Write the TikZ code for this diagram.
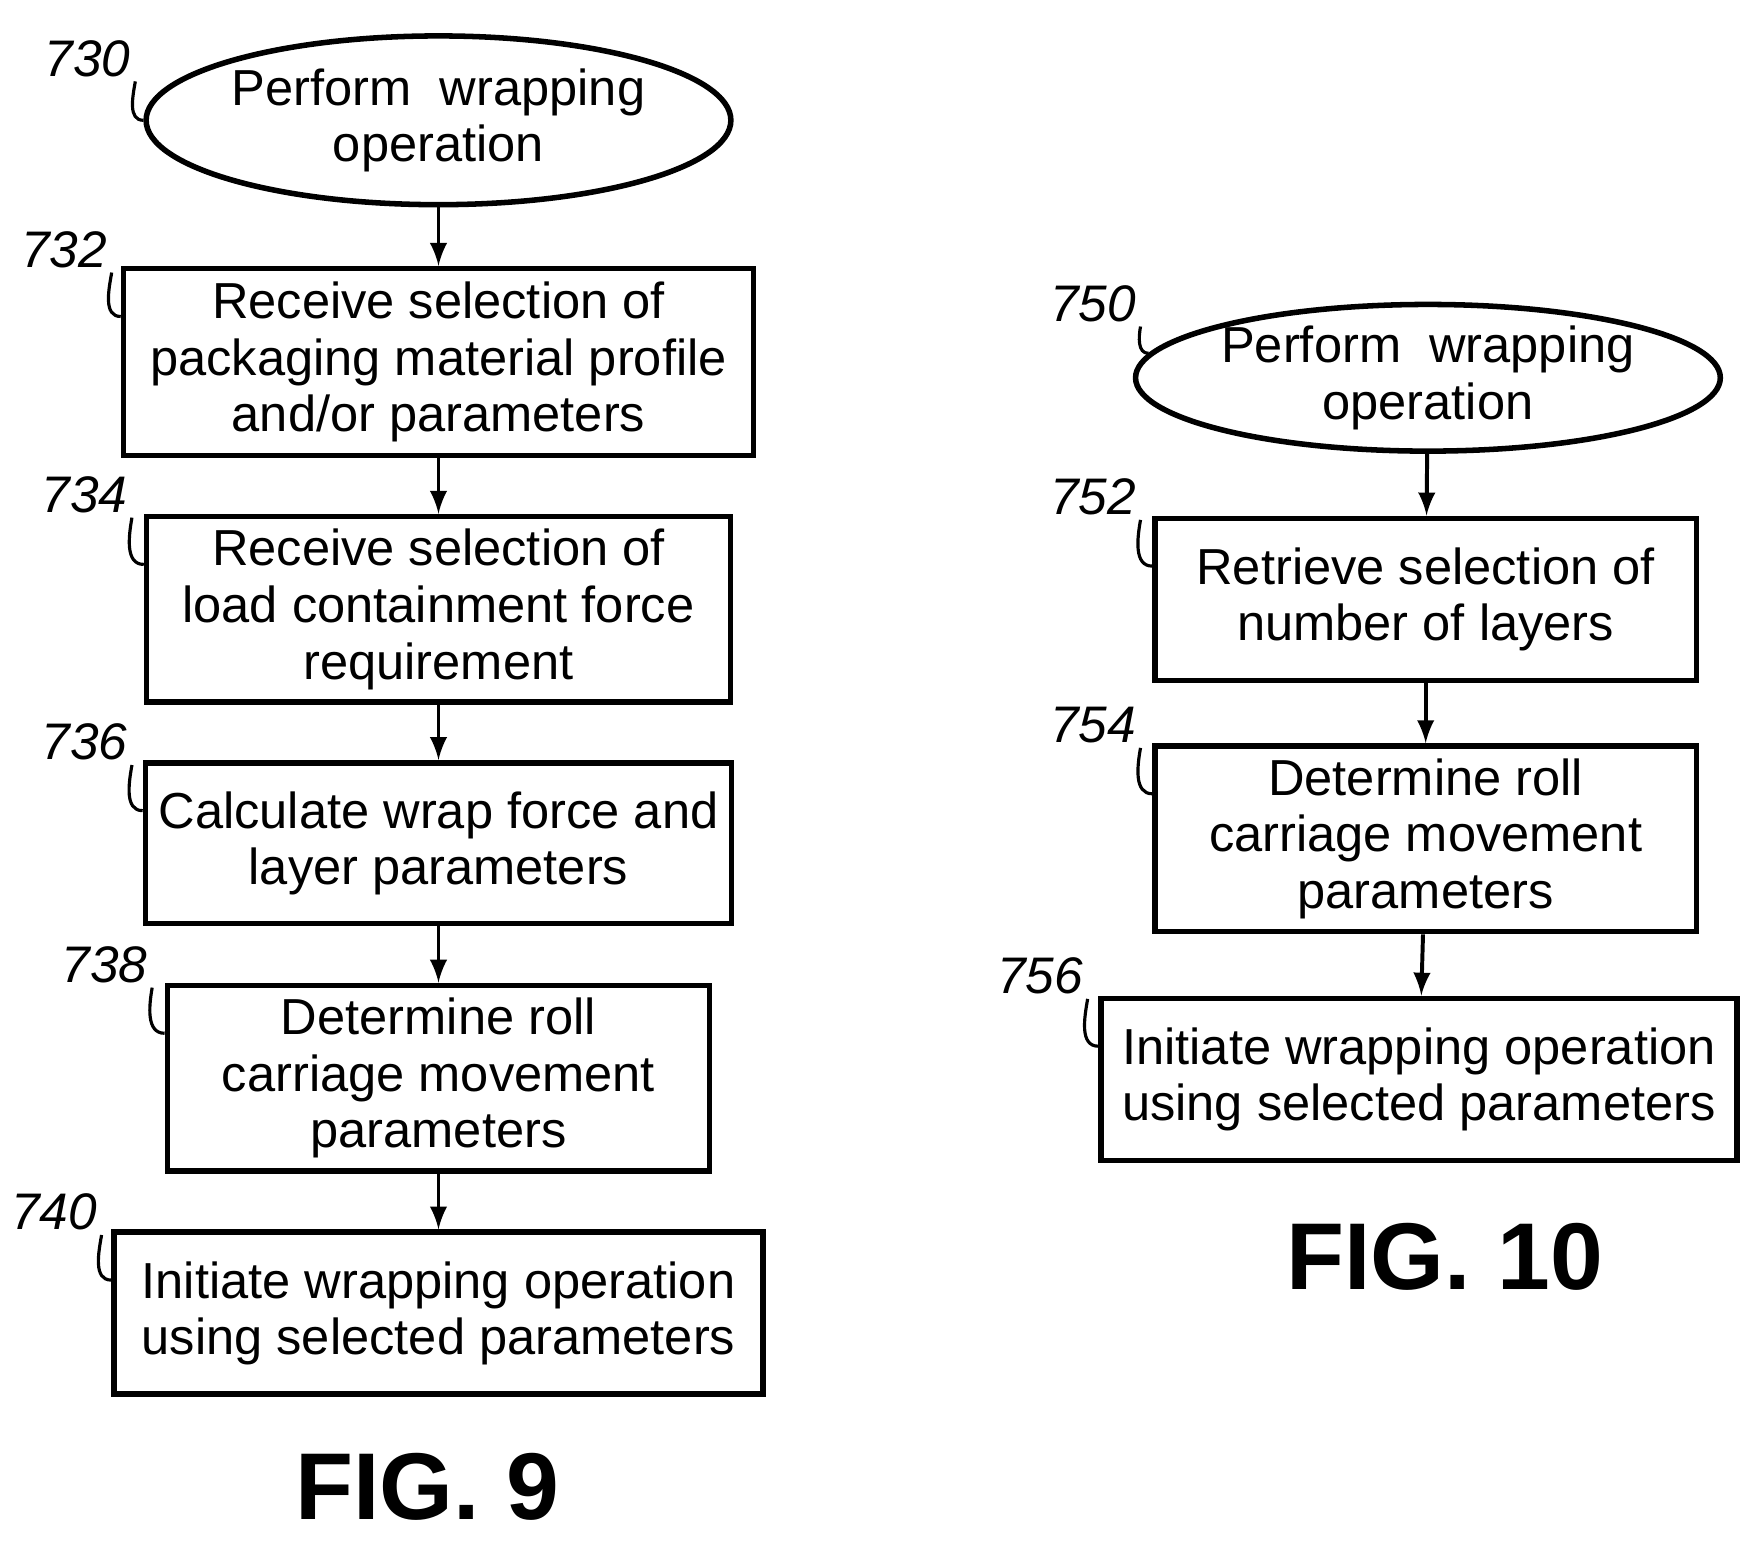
\documentclass[tikz,border=0pt]{standalone}
\usepackage{fontspec}
\setmainfont{Liberation Sans}
\usetikzlibrary{shapes.geometric,calc}

\begin{document}
\begin{tikzpicture}[x=0.01cm,y=-0.01cm,
            box/.style={draw,line width=1.4pt,align=center,inner sep=0pt,font=\fontsize{12.8}{14.3}\selectfont},
            oval/.style={box,ellipse},
            ref/.style={font=\itshape\fontsize{13}{13}\selectfont,inner sep=1pt},
            lead/.style={line width=0.8pt},
            fig/.style={font=\bfseries\fontsize{24}{24}\selectfont}]
            \useasboundingbox (0,0) rectangle (1560,1370);
            % FIG. 9
            \node[oval,minimum width=5.05cm,minimum height=1.5cm](n730) at (390,107) {Perform\ \ wrapping\\operation};
            \node[box,minimum width=5.6cm,minimum height=1.66cm](n732) at (390,322) {Receive selection of\\packaging material profile\\and/or parameters};
            \node[box,minimum width=5.19cm,minimum height=1.65cm](n734) at (390,542) {Receive selection of\\load containment force\\requirement};
            \node[box,minimum width=5.21cm,minimum height=1.43cm](n736) at (390,750) {Calculate wrap force and\\layer parameters};
            \node[box,minimum width=4.82cm,minimum height=1.65cm](n738) at (390,959) {Determine roll\\carriage movement\\parameters};
            \node[box,minimum width=5.77cm,minimum height=1.44cm](n740) at (390,1168) {Initiate wrapping operation\\using selected parameters};
            \node[fig](f9) at (380,1322) {FIG. 9};
            % FIG. 10
            \node[oval,minimum width=4.85cm,minimum height=1.3cm](n750) at (1270,336) {Perform\ \ wrapping\\operation};
            \node[box,minimum width=4.81cm,minimum height=1.44cm](n752) at (1268,533) {Retrieve selection of\\number of layers};
            \node[box,minimum width=4.81cm,minimum height=1.65cm](n754) at (1268,746) {Determine roll\\carriage movement\\parameters};
            \node[box,minimum width=5.65cm,minimum height=1.44cm](n756) at (1262,960) {Initiate wrapping operation\\using selected parameters};
            \node[fig](f10) at (1285,1118) {FIG. 10};
            % reference numerals
            \node[ref](l730) at (78,52) {730};
            \node[ref](l732) at (57,222) {732};
            \node[ref](l734) at (75,440) {734};
            \node[ref](l736) at (75,660) {736};
            \node[ref](l738) at (93,858) {738};
            \node[ref](l740) at (48,1078) {740};
            \node[ref](l750) at (972,270) {750};
            \node[ref](l752) at (972,442) {752};
            \node[ref](l754) at (972,645) {754};
            \node[ref](l756) at (925,868) {756};

            \begin{scope}[->, >=latex, line width=1pt]
                \draw(n730)--(n732);
                \draw(n732)--(n734);
                \draw(n734)--(n736);
                \draw(n736)--(n738);
                \draw(n738)--(n740);
                \draw(n750)--(n752);
                \draw(n752)--(n754);
                \draw(n754)--(n756);
            \end{scope}
            \begin{scope}[lead]
                \draw(l730.south east) to[out=-100,in=180] (n730.west);
                \draw(l732.south east) to[out=-100,in=180] ($(n732.north west)+(0,45)$);
                \draw(l734.south east) to[out=-100,in=180] ($(n734.north west)+(0,45)$);
                \draw(l736.south east) to[out=-100,in=180] ($(n736.north west)+(0,45)$);
                \draw(l738.south east) to[out=-100,in=180] ($(n738.north west)+(0,45)$);
                \draw(l740.south east) to[out=-100,in=180] ($(n740.north west)+(0,45)$);
                \draw(l750.south east) to[out=-100,in=180] (n750.175);
                \draw(l752.south east) to[out=-100,in=180] ($(n752.north west)+(0,45)$);
                \draw(l754.south east) to[out=-100,in=180] ($(n754.north west)+(0,45)$);
                \draw(l756.south east) to[out=-100,in=180] ($(n756.north west)+(0,45)$);
            \end{scope}
        \end{tikzpicture}
\end{document}
